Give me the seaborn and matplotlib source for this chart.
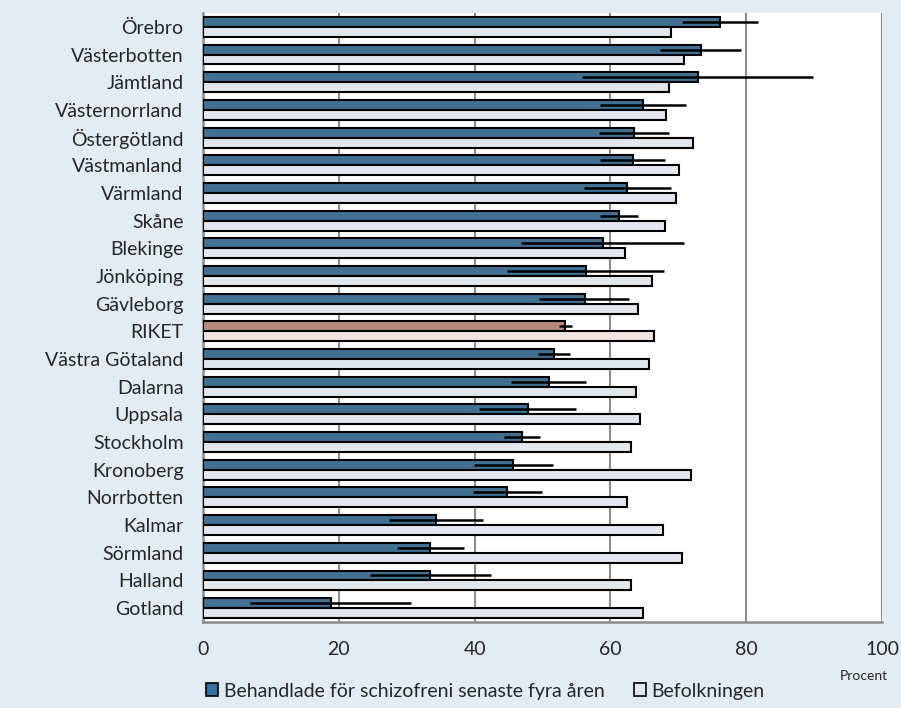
import matplotlib
matplotlib.use("Agg")
import matplotlib.pyplot as plt
import seaborn as sns
import pandas as pd
import numpy as np
from matplotlib.patches import Patch

regions = ["Örebro", "Västerbotten", "Jämtland", "Västernorrland", "Östergötland",
           "Västmanland", "Värmland", "Skåne", "Blekinge", "Jönköping", "Gävleborg",
           "RIKET", "Västra Götaland", "Dalarna", "Uppsala", "Stockholm", "Kronoberg",
           "Norrbotten", "Kalmar", "Sörmland", "Halland", "Gotland"]
treated = [76.2, 73.3, 72.9, 64.8, 63.5, 63.3, 62.5, 61.2, 58.9, 56.4, 56.2,
           53.3, 51.7, 50.9, 47.9, 47.0, 45.7, 44.8, 34.3, 33.5, 33.4, 18.9]
treated_low = [70.6, 67.3, 55.8, 58.4, 58.3, 58.5, 56.1, 58.5, 46.9, 44.8, 49.5,
               52.4, 49.3, 45.4, 40.7, 44.3, 39.9, 39.7, 27.4, 28.6, 24.6, 6.9]
treated_high = [81.7, 79.3, 89.8, 71.1, 68.7, 68.1, 68.9, 64.0, 70.8, 67.9, 62.8,
                54.3, 54.1, 56.4, 55.0, 49.7, 51.5, 49.9, 41.2, 38.5, 42.4, 30.7]
population = [68.9, 70.8, 68.7, 68.2, 72.2, 70.1, 69.6, 68.1, 62.1, 66.1, 64.0,
              66.4, 65.7, 63.8, 64.3, 63.1, 71.9, 62.5, 67.7, 70.6, 63.1, 64.8]
series = ["Behandlade för schizofreni senaste fyra åren", "Befolkningen"]
x_ticks = [0, 20, 40, 60, 80, 100]

df = pd.DataFrame({
    "region": regions * 2,
    "value": treated + population,
    "series": [series[0]] * len(regions) + [series[1]] * len(regions),
})

dark = "#3572a0"
light = "#dfe7ef"
riket_dark = "#b88a7e"
riket_light = "#f0e4e0"
bg = "#e2ecf4"
axis_gray = "#8c8c8c"

sns.set_style("white")
plt.rcParams["font.family"] = ["Lato", "DejaVu Sans"]

fig = plt.figure(figsize=(9.01, 7.08), dpi=100, facecolor=bg)
ax = fig.add_axes([203 / 901, 1 - 622 / 708, (882 - 203) / 901, (622 - 13) / 708])
ax.set_facecolor("white")

sns.barplot(data=df, y="region", x="value", hue="series", orient="h",
            palette=[dark, light], order=regions, hue_order=series,
            width=0.72, gap=0, edgecolor="black", linewidth=1.5,
            errorbar=None, legend=False, ax=ax, zorder=3)

ridx = regions.index("RIKET")
ax.containers[0][ridx].set_facecolor(riket_dark)
ax.containers[1][ridx].set_facecolor(riket_light)

# error bars at the centres of the treated bars
for i, bar in enumerate(ax.containers[0]):
    yc = bar.get_y() + bar.get_height() / 2
    ax.hlines(yc, treated_low[i], treated_high[i], color="black", lw=1.8, zorder=4)

ax.set_xlim(0, 100)
ax.set_ylim(len(regions) - 0.5, -0.5)
ax.set_xticks(x_ticks)
ax.set_xticklabels([str(t) for t in x_ticks], fontsize=14)
ax.set_xlabel("")
ax.set_ylabel("")
ax.tick_params(axis="y", length=0, labelsize=14, pad=14)
ax.set_yticks(np.arange(-0.5, len(regions), 1.0), minor=True)
ax.tick_params(axis="y", which="minor", length=4, width=1.5, color=axis_gray, direction="out")
ax.tick_params(axis="x", length=4, width=1.5, color=axis_gray, direction="out", pad=9.5)

ax.grid(axis="x", color=axis_gray, lw=1.5, zorder=0)
ax.grid(axis="y", visible=False)
ax.set_axisbelow(True)
for s in ["left", "bottom", "right"]:
    ax.spines[s].set_color(axis_gray)
    ax.spines[s].set_linewidth(1.8)
ax.spines["top"].set_visible(False)
ax.spines["right"].set_visible(False)

fig.text(888 / 901, 1 - 676 / 708, "Procent", ha="right", va="center", fontsize=10)

handles = [Patch(facecolor=dark, edgecolor="black", lw=1.2),
           Patch(facecolor=light, edgecolor="black", lw=1.2)]
fig.legend(handles, series, loc="center left", bbox_to_anchor=(206 / 901, 1 - 691 / 708),
           ncol=2, frameon=False, fontsize=14, handlelength=0.62, handleheight=0.62,
           handletextpad=0.3, columnspacing=1.5, borderpad=0, borderaxespad=0)

fig.savefig("out.png", dpi=100, facecolor=bg)
